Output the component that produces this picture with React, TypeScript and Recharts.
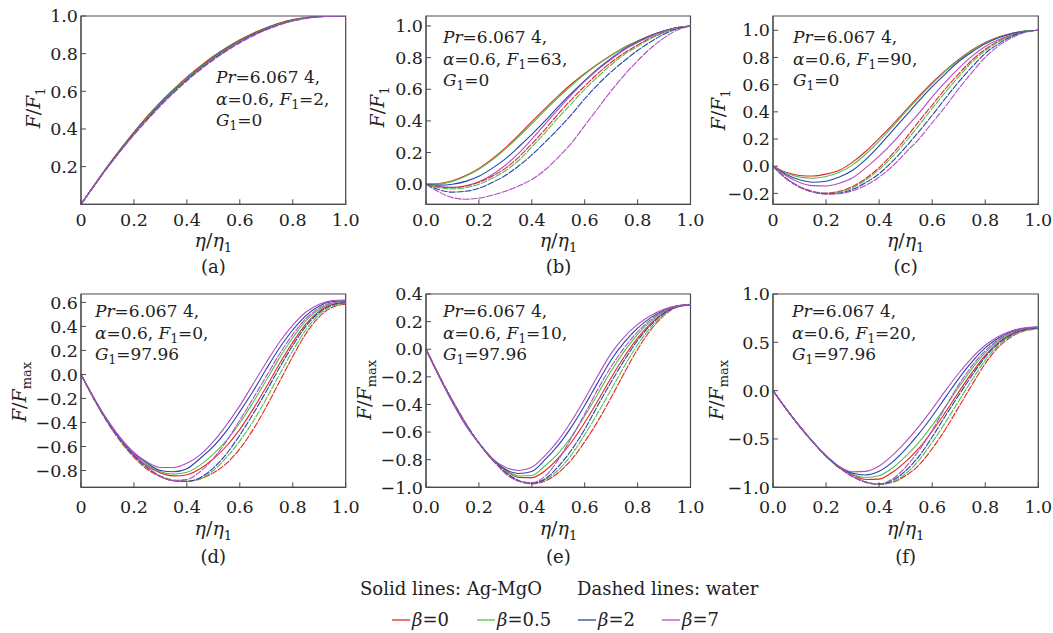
import React from 'react';
import { LineChart, Line, XAxis, YAxis, ReferenceArea } from 'recharts';

// eta / eta1 sampling
const eta = [0, 0.05, 0.1, 0.15, 0.2, 0.25, 0.3, 0.35, 0.4, 0.45, 0.5, 0.55, 0.6, 0.65, 0.7, 0.75, 0.8, 0.85, 0.9, 0.95, 1];

const betaLabels = ['0', '0.5', '2', '7'];
const f1Values = ['2', '63', '90', '0', '10', '20'];
const g1Values = ['0', '0', '0', '97.96', '97.96', '97.96'];
const panelTags = ['(a)', '(b)', '(c)', '(d)', '(e)', '(f)'];

// tick labels
const xTicks = [0, 0.2, 0.4, 0.6, 0.8, 1];
const xLabelsShort = ['0', '0.2', '0.4', '0.6', '0.8', '1.0'];
const xLabelsLong = ['0.0', '0.2', '0.4', '0.6', '0.8', '1.0'];
const yTicksA = [0.2, 0.4, 0.6, 0.8, 1];
const yLabelsA = ['0.2', '0.4', '0.6', '0.8', '1.0'];
const yTicksB = [0, 0.2, 0.4, 0.6, 0.8, 1];
const yLabelsB = ['0.0', '0.2', '0.4', '0.6', '0.8', '1.0'];
const yTicksC = [-0.2, 0, 0.2, 0.4, 0.6, 0.8, 1];
const yLabelsC = ['\u22120.2', '0.0', '0.2', '0.4', '0.6', '0.8', '1.0'];
const yTicksD = [-0.8, -0.6, -0.4, -0.2, 0, 0.2, 0.4, 0.6];
const yLabelsD = ['\u22120.8', '\u22120.6', '\u22120.4', '\u22120.2', '0.0', '0.2', '0.4', '0.6'];
const yTicksE = [-1, -0.8, -0.6, -0.4, -0.2, 0, 0.2, 0.4];
const yLabelsE = ['\u22121.0', '\u22120.8', '\u22120.6', '\u22120.4', '\u22120.2', '0.0', '0.2', '0.4'];
const yTicksF = [-1, -0.5, 0, 0.5, 1];
const yLabelsF = ['\u22121.0', '\u22120.5', '0.0', '0.5', '1.0'];

// (a) F1=2, G1=0   -- R/G/B/P = beta 0/0.5/2/7, suffix w = water (dashed)
const aR = [0, 0.102, 0.202, 0.295, 0.384, 0.467, 0.542, 0.611, 0.675, 0.733, 0.786, 0.833, 0.874, 0.909, 0.938, 0.963, 0.981, 0.992, 0.998, 0.9998, 1];
const aG = [0, 0.101, 0.2, 0.294, 0.382, 0.464, 0.539, 0.608, 0.672, 0.73, 0.783, 0.83, 0.871, 0.906, 0.937, 0.961, 0.979, 0.992, 0.998, 0.9997, 1];
const aB = [0, 0.101, 0.199, 0.292, 0.379, 0.461, 0.536, 0.605, 0.669, 0.727, 0.78, 0.827, 0.869, 0.904, 0.935, 0.96, 0.978, 0.991, 0.997, 0.9996, 1];
const aP = [0, 0.099, 0.197, 0.288, 0.375, 0.455, 0.53, 0.599, 0.663, 0.721, 0.774, 0.821, 0.863, 0.9, 0.931, 0.957, 0.976, 0.989, 0.997, 0.9995, 1];
const aRw = [0, 0.1, 0.198, 0.291, 0.378, 0.459, 0.534, 0.603, 0.667, 0.725, 0.778, 0.825, 0.867, 0.903, 0.934, 0.958, 0.977, 0.99, 0.997, 0.9995, 1];
const aGw = [0, 0.1, 0.198, 0.289, 0.376, 0.457, 0.532, 0.601, 0.665, 0.723, 0.776, 0.823, 0.865, 0.901, 0.932, 0.958, 0.977, 0.99, 0.997, 0.9995, 1];
const aBw = [0, 0.099, 0.196, 0.286, 0.372, 0.452, 0.527, 0.596, 0.66, 0.718, 0.771, 0.818, 0.861, 0.898, 0.929, 0.955, 0.975, 0.988, 0.996, 0.9994, 1];
const aPw = [0, 0.098, 0.194, 0.283, 0.368, 0.447, 0.522, 0.591, 0.655, 0.713, 0.766, 0.814, 0.857, 0.894, 0.926, 0.952, 0.973, 0.987, 0.995, 0.9994, 1];

// (b) F1=63, G1=0
const bR = [0, 0.004, 0.022, 0.055, 0.1, 0.16, 0.23, 0.31, 0.395, 0.478, 0.558, 0.633, 0.7, 0.76, 0.815, 0.865, 0.905, 0.94, 0.968, 0.99, 1];
const bG = [0, 0.002, 0.018, 0.05, 0.094, 0.152, 0.222, 0.3, 0.382, 0.466, 0.547, 0.624, 0.695, 0.757, 0.813, 0.864, 0.905, 0.94, 0.968, 0.99, 1];
const bB = [0, -0.006, 0.0, 0.018, 0.05, 0.1, 0.16, 0.235, 0.315, 0.4, 0.49, 0.575, 0.655, 0.73, 0.795, 0.855, 0.9, 0.94, 0.97, 0.99, 1];
const bP = [0, -0.015, -0.02, -0.01, 0.015, 0.06, 0.12, 0.195, 0.285, 0.38, 0.475, 0.565, 0.65, 0.725, 0.79, 0.85, 0.895, 0.935, 0.967, 0.99, 1];
const bRw = [0, -0.018, -0.022, -0.012, 0.012, 0.05, 0.1, 0.17, 0.255, 0.345, 0.445, 0.535, 0.62, 0.7, 0.77, 0.83, 0.88, 0.925, 0.96, 0.988, 1];
const bGw = [0, -0.022, -0.03, -0.022, 0.0, 0.037, 0.085, 0.15, 0.235, 0.325, 0.42, 0.51, 0.6, 0.68, 0.755, 0.82, 0.872, 0.92, 0.957, 0.987, 1];
const bBw = [0, -0.035, -0.05, -0.045, -0.025, 0.01, 0.055, 0.115, 0.185, 0.265, 0.35, 0.44, 0.54, 0.63, 0.71, 0.78, 0.845, 0.9, 0.948, 0.982, 1];
const bPw = [0, -0.05, -0.085, -0.095, -0.088, -0.07, -0.045, -0.012, 0.03, 0.09, 0.17, 0.26, 0.37, 0.48, 0.59, 0.69, 0.78, 0.86, 0.925, 0.975, 1];

// (c) F1=90, G1=0
const cR = [0, -0.045, -0.068, -0.072, -0.058, -0.03, 0.03, 0.11, 0.205, 0.305, 0.41, 0.515, 0.615, 0.705, 0.785, 0.855, 0.91, 0.95, 0.978, 0.994, 1];
const cG = [0, -0.05, -0.08, -0.088, -0.075, -0.045, 0.01, 0.09, 0.185, 0.29, 0.4, 0.505, 0.605, 0.7, 0.78, 0.85, 0.905, 0.948, 0.976, 0.994, 1];
const cB = [0, -0.06, -0.1, -0.118, -0.11, -0.08, -0.03, 0.05, 0.15, 0.26, 0.37, 0.48, 0.585, 0.68, 0.77, 0.84, 0.9, 0.945, 0.975, 0.993, 1];
const cP = [0, -0.07, -0.12, -0.143, -0.145, -0.125, -0.085, -0.01, 0.075, 0.17, 0.28, 0.39, 0.51, 0.62, 0.72, 0.81, 0.88, 0.93, 0.965, 0.99, 1];
const cRw = [0, -0.09, -0.15, -0.185, -0.197, -0.185, -0.15, -0.09, -0.01, 0.09, 0.205, 0.33, 0.45, 0.57, 0.68, 0.78, 0.86, 0.92, 0.962, 0.99, 1];
const cGw = [0, -0.09, -0.152, -0.188, -0.2, -0.19, -0.158, -0.1, -0.025, 0.07, 0.18, 0.3, 0.425, 0.545, 0.66, 0.765, 0.85, 0.915, 0.96, 0.99, 1];
const cBw = [0, -0.09, -0.152, -0.19, -0.203, -0.197, -0.17, -0.12, -0.055, 0.035, 0.14, 0.255, 0.375, 0.5, 0.62, 0.73, 0.83, 0.9, 0.955, 0.988, 1];
const cPw = [0, -0.09, -0.152, -0.19, -0.205, -0.202, -0.18, -0.14, -0.08, 0.0, 0.1, 0.2, 0.32, 0.44, 0.57, 0.69, 0.8, 0.885, 0.945, 0.985, 1];

// (d) F1=0, G1=97.96
const dR = [0, -0.206, -0.391, -0.547, -0.672, -0.763, -0.82, -0.845, -0.835, -0.785, -0.703, -0.596, -0.458, -0.289, -0.104, 0.089, 0.267, 0.421, 0.527, 0.585, 0.6];
const dG = [0, -0.204, -0.388, -0.542, -0.666, -0.754, -0.81, -0.83, -0.815, -0.755, -0.664, -0.548, -0.404, -0.232, -0.048, 0.138, 0.306, 0.448, 0.543, 0.593, 0.606];
const dB = [0, -0.2, -0.383, -0.535, -0.656, -0.74, -0.8, -0.81, -0.785, -0.7, -0.6, -0.47, -0.31, -0.14, 0.045, 0.22, 0.37, 0.49, 0.57, 0.607, 0.615];
const dP = [0, -0.2, -0.38, -0.53, -0.65, -0.73, -0.775, -0.775, -0.74, -0.67, -0.56, -0.42, -0.26, -0.08, 0.1, 0.27, 0.41, 0.52, 0.585, 0.615, 0.62];
const dRw = [0, -0.21, -0.4, -0.56, -0.69, -0.79, -0.85, -0.885, -0.89, -0.87, -0.82, -0.74, -0.62, -0.46, -0.27, -0.06, 0.15, 0.34, 0.48, 0.56, 0.585];
const dGw = [0, -0.208, -0.396, -0.555, -0.683, -0.779, -0.845, -0.88, -0.89, -0.87, -0.8, -0.69, -0.555, -0.392, -0.203, 0.0, 0.197, 0.372, 0.499, 0.57, 0.591];
const dBw = [0, -0.207, -0.393, -0.55, -0.676, -0.775, -0.85, -0.885, -0.89, -0.86, -0.78, -0.66, -0.505, -0.33, -0.14, 0.056, 0.241, 0.403, 0.516, 0.579, 0.597];
const dPw = [0, -0.203, -0.386, -0.539, -0.662, -0.775, -0.85, -0.882, -0.875, -0.81, -0.7, -0.555, -0.38, -0.2, -0.015, 0.17, 0.332, 0.466, 0.554, 0.599, 0.61];

// (e) F1=10, G1=97.96
const eR = [0, -0.195, -0.377, -0.542, -0.68, -0.796, -0.877, -0.928, -0.93, -0.88, -0.789, -0.674, -0.531, -0.372, -0.206, -0.053, 0.081, 0.187, 0.265, 0.31, 0.322];
const eG = [0, -0.196, -0.379, -0.544, -0.68, -0.794, -0.871, -0.918, -0.915, -0.844, -0.754, -0.632, -0.484, -0.322, -0.158, -0.014, 0.108, 0.203, 0.272, 0.311, 0.323];
const eB = [0, -0.199, -0.383, -0.548, -0.68, -0.79, -0.87, -0.9, -0.885, -0.8, -0.695, -0.562, -0.407, -0.24, -0.078, 0.051, 0.153, 0.229, 0.283, 0.314, 0.324];
const eP = [0, -0.2, -0.385, -0.55, -0.68, -0.79, -0.855, -0.878, -0.855, -0.77, -0.66, -0.52, -0.36, -0.19, -0.03, 0.09, 0.18, 0.245, 0.29, 0.315, 0.325];
const eRw = [0, -0.19, -0.37, -0.535, -0.68, -0.8, -0.895, -0.955, -0.975, -0.955, -0.895, -0.8, -0.67, -0.52, -0.35, -0.17, 0.0, 0.14, 0.245, 0.305, 0.32];
const eGw = [0, -0.192, -0.373, -0.538, -0.68, -0.798, -0.888, -0.953, -0.972, -0.945, -0.875, -0.765, -0.62, -0.461, -0.292, -0.123, 0.032, 0.159, 0.253, 0.307, 0.321];
const eBw = [0, -0.194, -0.375, -0.54, -0.68, -0.797, -0.89, -0.95, -0.97, -0.94, -0.85, -0.73, -0.58, -0.405, -0.238, -0.079, 0.063, 0.177, 0.261, 0.309, 0.322];
const ePw = [0, -0.197, -0.381, -0.546, -0.68, -0.793, -0.9, -0.955, -0.965, -0.92, -0.8, -0.64, -0.47, -0.289, -0.126, 0.012, 0.126, 0.214, 0.277, 0.312, 0.324];

// (f) F1=20, G1=97.96
const fR = [0, -0.19, -0.367, -0.53, -0.676, -0.793, -0.87, -0.92, -0.915, -0.845, -0.735, -0.595, -0.42, -0.222, -0.015, 0.186, 0.366, 0.5, 0.587, 0.634, 0.649];
const fG = [0, -0.19, -0.368, -0.53, -0.674, -0.791, -0.865, -0.898, -0.88, -0.8, -0.68, -0.535, -0.36, -0.165, 0.035, 0.228, 0.394, 0.516, 0.596, 0.638, 0.652];
const fB = [0, -0.19, -0.369, -0.53, -0.672, -0.787, -0.855, -0.872, -0.835, -0.74, -0.605, -0.445, -0.265, -0.07, 0.125, 0.298, 0.442, 0.544, 0.611, 0.646, 0.657];
const fP = [0, -0.19, -0.37, -0.53, -0.67, -0.785, -0.84, -0.835, -0.78, -0.67, -0.53, -0.37, -0.19, 0.0, 0.18, 0.34, 0.47, 0.56, 0.62, 0.65, 0.66];
const fRw = [0, -0.19, -0.365, -0.53, -0.68, -0.8, -0.89, -0.95, -0.97, -0.95, -0.88, -0.77, -0.6, -0.4, -0.17, 0.06, 0.28, 0.45, 0.56, 0.62, 0.64];
const fGw = [0, -0.19, -0.366, -0.53, -0.678, -0.797, -0.884, -0.948, -0.97, -0.945, -0.86, -0.72, -0.535, -0.328, -0.107, 0.11, 0.314, 0.47, 0.571, 0.625, 0.644];
const fBw = [0, -0.19, -0.367, -0.53, -0.677, -0.795, -0.885, -0.945, -0.965, -0.93, -0.83, -0.68, -0.48, -0.26, -0.048, 0.158, 0.347, 0.489, 0.581, 0.631, 0.647];
const fPw = [0, -0.19, -0.369, -0.53, -0.673, -0.79, -0.885, -0.945, -0.965, -0.915, -0.79, -0.62, -0.41, -0.17, 0.06, 0.256, 0.413, 0.527, 0.602, 0.641, 0.654];

const FONT = '"DejaVu Serif", serif';
const TXT = '#222';
const AXIS = '#4a4a4a';
const betaColors = ['#e3262b', '#56bf4b', '#2445ab', '#b04ec2'];
const seriesKeys = ['r', 'g', 'b', 'p', 'rw', 'gw', 'bw', 'pw'];

type PanelCfg = {
  left: number; top: number; width: number; height: number;
  domain: [number, number]; yTicks: number[]; yLabels: string[]; xLabels: string[];
  xMargin: number; series: number[][];
};

const panels: PanelCfg[] = [
  { left: 81, top: 16, width: 264.7, height: 188.3, domain: [0, 1], yTicks: yTicksA, yLabels: yLabelsA, xLabels: xLabelsShort, xMargin: 14.7, series: [aR, aG, aB, aP, aRw, aGw, aBw, aPw] },
  { left: 426.2, top: 16, width: 264.5, height: 188.3, domain: [-0.127, 1.063], yTicks: yTicksB, yLabels: yLabelsB, xLabels: xLabelsLong, xMargin: 14.7, series: [bR, bG, bB, bP, bRw, bGw, bBw, bPw] },
  { left: 773, top: 16, width: 265.3, height: 188.3, domain: [-0.28, 1.105], yTicks: yTicksC, yLabels: yLabelsC, xLabels: xLabelsShort, xMargin: 14.7, series: [cR, cG, cB, cP, cRw, cGw, cBw, cPw] },
  { left: 81, top: 294, width: 264.7, height: 193.3, domain: [-0.94, 0.67], yTicks: yTicksD, yLabels: yLabelsD, xLabels: xLabelsShort, xMargin: 18.4, series: [dR, dG, dB, dP, dRw, dGw, dBw, dPw] },
  { left: 426.2, top: 294, width: 264.5, height: 193.3, domain: [-1, 0.4], yTicks: yTicksE, yLabels: yLabelsE, xLabels: xLabelsLong, xMargin: 18.4, series: [eR, eG, eB, eP, eRw, eGw, eBw, ePw] },
  { left: 773, top: 294, width: 265.3, height: 193.3, domain: [-1, 1], yTicks: yTicksF, yLabels: yLabelsF, xLabels: xLabelsLong, xMargin: 18.4, series: [fR, fG, fB, fP, fRw, fGw, fBw, fPw] },
];

const tickStyle = { fill: TXT, fontSize: 17.5, fontFamily: FONT };
const M_TOP = 14;
const M_RIGHT = 22;

const Panel = ({ p }: { p: PanelCfg }) => {
  const rows = eta.map((x, i) => {
    const row: Record<string, number> = { x };
    p.series.forEach((s, k) => { row[seriesKeys[k]] = s[i]; });
    return row;
  });
  return (
    <div style={{ position: 'absolute', left: p.left - 62, top: p.top - M_TOP }}>
      <LineChart width={p.width + 62 + M_RIGHT} height={p.height + M_TOP + 40} data={rows}
        margin={{ top: M_TOP, right: M_RIGHT, bottom: 0, left: 2 }}>
        <XAxis dataKey="x" type="number" domain={[0, 1]} ticks={xTicks} interval={0} height={40}
          tickFormatter={(v: number) => p.xLabels[xTicks.indexOf(v)] ?? String(v)}
          tickSize={-5} tickMargin={p.xMargin} stroke={AXIS} tick={tickStyle} />
        <YAxis type="number" domain={p.domain} ticks={p.yTicks} interval={0} width={60} allowDataOverflow
          tickFormatter={(v: number) => p.yLabels[p.yTicks.indexOf(v)] ?? String(v)}
          tickSize={-5} tickMargin={8} stroke={AXIS} tick={tickStyle} />
        <ReferenceArea x1={0} x2={1} y1={p.domain[0]} y2={p.domain[1]} fill="none" fillOpacity={0}
          stroke={AXIS} strokeWidth={1.2} ifOverflow="visible" />
        {seriesKeys.map((k, i) => (
          <Line key={k} dataKey={k} type="monotone" stroke={betaColors[i % 4]} strokeWidth={1.1}
            strokeDasharray={i >= 4 ? '7 1' : undefined} dot={false} activeDot={false}
            isAnimationActive={false} />
        ))}
      </LineChart>
    </div>
  );
};

const Note = ({ x, y, f1, g1 }: { x: number; y: number; f1: string; g1: string }) => (
  <text x={x} y={y} fontFamily={FONT} fontSize={17} fill={TXT}>
    <tspan fontStyle="italic">Pr</tspan><tspan>=6.067 4,</tspan>
    <tspan x={x} dy={21.5} fontStyle="italic">α</tspan><tspan>=0.6, </tspan>
    <tspan fontStyle="italic">F</tspan><tspan fontSize={12} dy={4}>1</tspan><tspan dy={-4}>{`=${f1},`}</tspan>
    <tspan x={x} dy={21.5} fontStyle="italic">G</tspan><tspan fontSize={12} dy={4}>1</tspan><tspan dy={-4}>{`=${g1}`}</tspan>
  </text>
);

const YTitle = ({ x, y, sub }: { x: number; y: number; sub: string }) => (
  <text transform={`translate(${x},${y}) rotate(-90)`} textAnchor="middle" fontFamily={FONT} fontSize={19} fill={TXT}>
    <tspan fontStyle="italic">F</tspan><tspan>/</tspan><tspan fontStyle="italic">F</tspan>
    <tspan fontSize={13} dy={5}>{sub}</tspan>
  </text>
);

const XTitle = ({ x, y }: { x: number; y: number }) => (
  <text x={x} y={y} textAnchor="middle" fontFamily={FONT} fontSize={19} fill={TXT}>
    <tspan fontStyle="italic">η</tspan><tspan>/</tspan><tspan fontStyle="italic">η</tspan>
    <tspan fontSize={13} dy={5}>1</tspan>
  </text>
);

// placement of the annotation blocks and axis titles
const noteSpots = [[216, 83], [443, 43], [793, 43], [95, 317], [443, 317], [792, 317]];
const yTitleSpots = [[40, 108], [384, 107], [725, 110], [25.5, 392], [371, 390], [723, 390]];
const legendLineX = [392, 477, 578, 662];

const App = () => {
  return (
    <div style={{ position: 'absolute', left: 0, top: 0, width: 1053, height: 633, background: '#fff' }}>
      {panels.map((p, i) => <Panel key={i} p={p} />)}
      <svg width={1053} height={633} style={{ position: 'absolute', left: 0, top: 0, pointerEvents: 'none' }}>
        {panels.map((p, i) => {
          const cx = p.left + p.width / 2;
          const bottomRow = i >= 3;
          return (
            <g key={i}>
              <Note x={noteSpots[i][0]} y={noteSpots[i][1]} f1={f1Values[i]} g1={g1Values[i]} />
              <YTitle x={yTitleSpots[i][0]} y={yTitleSpots[i][1]} sub={bottomRow ? 'max' : '1'} />
              <XTitle x={cx} y={bottomRow ? 535 : 247} />
              <text x={cx} y={bottomRow ? 562.5 : 272.5} textAnchor="middle" fontFamily={FONT} fontSize={18} fill={TXT}>
                {panelTags[i]}
              </text>
            </g>
          );
        })}
        <text x={360} y={595} fontFamily={FONT} fontSize={18} fill={TXT}>Solid lines: Ag-MgO</text>
        <text x={577} y={595} fontFamily={FONT} fontSize={18} fill={TXT}>Dashed lines: water</text>
        {betaLabels.map((b, i) => (
          <g key={b}>
            <line x1={legendLineX[i]} x2={legendLineX[i] + 18} y1={620} y2={620} stroke={betaColors[i]} strokeWidth={1.3} />
            <text x={legendLineX[i] + 20} y={625.5} fontFamily={FONT} fontSize={18} fill={TXT}>
              <tspan fontStyle="italic">β</tspan><tspan>{`=${b}`}</tspan>
            </text>
          </g>
        ))}
      </svg>
    </div>
  );
};

export default App;
